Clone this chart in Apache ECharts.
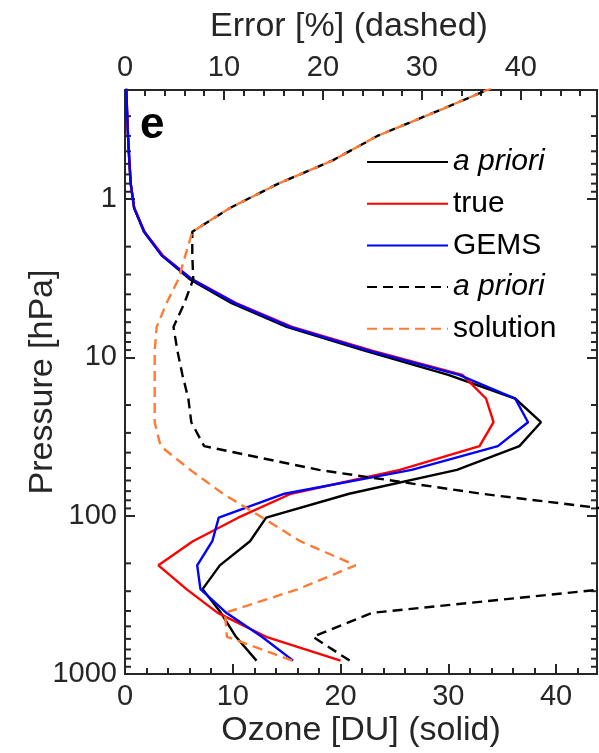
<!DOCTYPE html>
<html>
<head>
<meta charset="utf-8">
<script src="https://cdn.jsdelivr.net/npm/echarts@6/dist/echarts.min.js"></script>
<style>
  html, body { margin: 0; padding: 0; background: #ffffff; }
  #chart { width: 599px; height: 753px; }
</style>
</head>
<body>
<div id="chart"></div>
<script>
// Retrieval layers (hPa), surface to top
const pressure = [823, 582, 411, 291, 206, 145, 103, 72.7, 51.4, 36.4, 25.7, 18.2, 12.9,
                  9.1, 6.43, 4.55, 3.21, 2.27, 1.61, 1.14, 0.80, 0.57, 0.40, 0.28, 0.20];

// Ozone partial columns [DU]
const aprioriOzone = [12.2, 10.3, 8.9, 7.2, 8.8, 11.6, 13.1, 20.8, 30.8, 36.6, 38.6, 36.2, 30.0,
                      22.3, 15.0, 9.9, 6.0, 3.4, 1.75, 0.85, 0.53, 0.40, 0.28, 0.19, 0.12];
const trueOzone    = [20.0, 13.1, 8.6, 5.7, 3.1, 6.3, 10.5, 15.4, 25.5, 32.9, 34.2, 33.5, 31.3,
                      23.0, 15.5, 10.3, 6.2, 3.5, 1.8, 0.85, 0.53, 0.40, 0.28, 0.19, 0.12];
const gemsOzone    = [15.6, 12.7, 9.4, 7.0, 6.7, 8.1, 8.7, 14.8, 26.6, 34.6, 37.4, 36.2, 31.0,
                      22.7, 15.3, 10.2, 6.2, 3.4, 1.8, 0.85, 0.53, 0.40, 0.28, 0.19, 0.12];

// Errors [%]
const aprioriError  = [22.7, 19.0, 25.0, 48.5, 62, 68, 56, 36.0, 19.6, 8.0, 6.7, 6.4, 5.8,
                       5.3, 4.9, 6.0, 6.9, 6.8, 6.8, 10.6, 15.5, 21.0, 25.5, 31.5, 37.0];
const solutionError = [16.9, 10.3, 10.1, 17.5, 23.3, 17.7, 13.9, 9.9, 6.6, 3.6, 3.0, 3.0, 3.0,
                       3.0, 3.2, 4.2, 5.4, 6.1, 6.8, 10.6, 15.5, 21.0, 25.5, 31.5, 37.0];

// Axis ranges and tick values
const ozoneRange = [0, 43.8];
const errorRange = [0, 47.7];
const pressureRange = [0.205, 1000];
const pressureLabels = [1, 10, 100, 1000];
const pressureMinorTicks = [0.3, 0.4, 0.5, 0.6, 0.7, 0.8, 0.9,
                            2, 3, 4, 5, 6, 7, 8, 9,
                            20, 30, 40, 50, 60, 70, 80, 90,
                            200, 300, 400, 500, 600, 700, 800, 900];

const FONT = '"Liberation Sans", Arial, Helvetica, sans-serif';
const AXIS_COLOR = '#262626';

const pairs = (xs) => xs.map((v, i) => [v, pressure[i]]);

const legendText = {
  'a priori': '{i|a priori}',
  'true': 'true',
  'GEMS': 'GEMS',
  'a priori error': '{i|a priori}',
  'solution': 'solution'
};

function xAxisMain(pos, range, name, nameGap, namePad) {
  return {
    type: 'value', position: pos, min: range[0], max: range[1], interval: 10,
    name: name, nameLocation: 'middle', nameGap: nameGap, nameMoveOverlap: false,
    nameTextStyle: { fontFamily: FONT, fontSize: 34, color: AXIS_COLOR, padding: namePad },
    axisLine: { show: true, onZero: false, lineStyle: { color: AXIS_COLOR, width: 2 } },
    axisTick: { show: true, inside: true, length: 10, lineStyle: { color: AXIS_COLOR, width: 2 } },
    axisLabel: { show: true, margin: 8, fontFamily: FONT, fontSize: 29, color: AXIS_COLOR,
                 showMaxLabel: false,
                 formatter: (v) => (Math.abs(v % 10) < 1e-6 ? String(v) : '') },
    splitLine: { show: false }
  };
}
function xAxisMinor(pos, range) {
  return {
    type: 'value', position: pos, min: range[0], max: range[1], interval: 2,
    axisLine: { show: false, onZero: false },
    axisTick: { show: true, inside: true, length: 6, lineStyle: { color: AXIS_COLOR, width: 2 } },
    axisLabel: { show: false },
    splitLine: { show: false }
  };
}
function yAxisLog(pos, withLabels) {
  return {
    type: 'log', logBase: 10, position: pos, inverse: true,
    min: pressureRange[0], max: pressureRange[1],
    name: withLabels ? 'Pressure [hPa]' : '', nameLocation: 'middle', nameGap: 65,
    nameMoveOverlap: false,
    nameTextStyle: { fontFamily: FONT, fontSize: 34, color: AXIS_COLOR },
    axisLine: { show: true, onZero: false, lineStyle: { color: AXIS_COLOR, width: 2 } },
    axisTick: { show: true, inside: true, length: 10, lineStyle: { color: AXIS_COLOR, width: 2 } },
    axisLabel: {
      show: withLabels, margin: 8, fontFamily: FONT, fontSize: 29, color: AXIS_COLOR,
      formatter: (v) => {
        const hit = pressureLabels.find((t) => Math.abs(v - t) / t < 1e-6);
        return hit === undefined ? '' : String(hit);
      }
    },
    splitLine: { show: false }
  };
}

function lineSeries(name, data, xIdx, color, dashed) {
  return {
    name: name, type: 'line', xAxisIndex: xIdx, yAxisIndex: 0,
    data: pairs(data), symbol: 'none', smooth: false, clip: true,
    lineStyle: { color: color, width: 2.4, type: dashed ? [10, 6] : 'solid' },
    itemStyle: { color: color },
    emphasis: { disabled: true }, animation: false
  };
}

const chart = echarts.init(document.getElementById('chart'), null, { renderer: 'canvas' });

chart.setOption({
  backgroundColor: '#ffffff',
  animation: false,
  grid: { left: 125, right: 2, top: 90, bottom: 78, containLabel: false },
  xAxis: [
    xAxisMain('bottom', ozoneRange, 'Ozone [DU] (solid)', 40, [0, 0, 0, 0]),
    xAxisMain('top', errorRange, 'Error [%] (dashed)', 46, [0, 24, 0, 0]),
    xAxisMinor('bottom', ozoneRange),
    xAxisMinor('top', errorRange)
  ],
  yAxis: [ yAxisLog('left', true), yAxisLog('right', false) ],
  legend: {
    orient: 'vertical', left: 366, top: 145, padding: 0,
    itemWidth: 81, itemHeight: 14, itemGap: 7.7,
    data: ['a priori', 'true', 'GEMS', 'a priori error', 'solution'],
    formatter: (name) => legendText[name],
    itemStyle: { opacity: 0 },
    textStyle: {
      fontFamily: FONT, fontSize: 30, color: '#000', lineHeight: 34,
      rich: { i: { fontFamily: FONT, fontSize: 30, fontStyle: 'italic', color: '#000', lineHeight: 34 } }
    },
    selectedMode: false
  },
  graphic: [{
    type: 'text', left: 140, top: 104,
    style: { text: 'e', font: 'bold 44px ' + FONT, fill: '#000' }
  }],
  series: [
    lineSeries('a priori', aprioriOzone, 0, '#000000', false),
    lineSeries('true', trueOzone, 0, '#ff0000', false),
    lineSeries('GEMS', gemsOzone, 0, '#0000ff', false),
    lineSeries('a priori error', aprioriError, 1, '#000000', true),
    lineSeries('solution', solutionError, 1, '#ff7b35', true),
    {
      // minor log ticks on left and right frame edges
      type: 'custom', xAxisIndex: 0, yAxisIndex: 0, silent: true, clip: true,
      data: pressureMinorTicks.map((p) => [0, p]),
      renderItem: (params, api) => {
        const cs = params.coordSys;
        const y = api.coord([0, api.value(1)])[1];
        const st = { stroke: AXIS_COLOR, lineWidth: 2 };
        return {
          type: 'group',
          children: [
            { type: 'line', shape: { x1: cs.x, y1: y, x2: cs.x + 6, y2: y }, style: st },
            { type: 'line', shape: { x1: cs.x + cs.width - 6, y1: y, x2: cs.x + cs.width, y2: y }, style: st }
          ]
        };
      }
    }
  ]
});
</script>
</body>
</html>
